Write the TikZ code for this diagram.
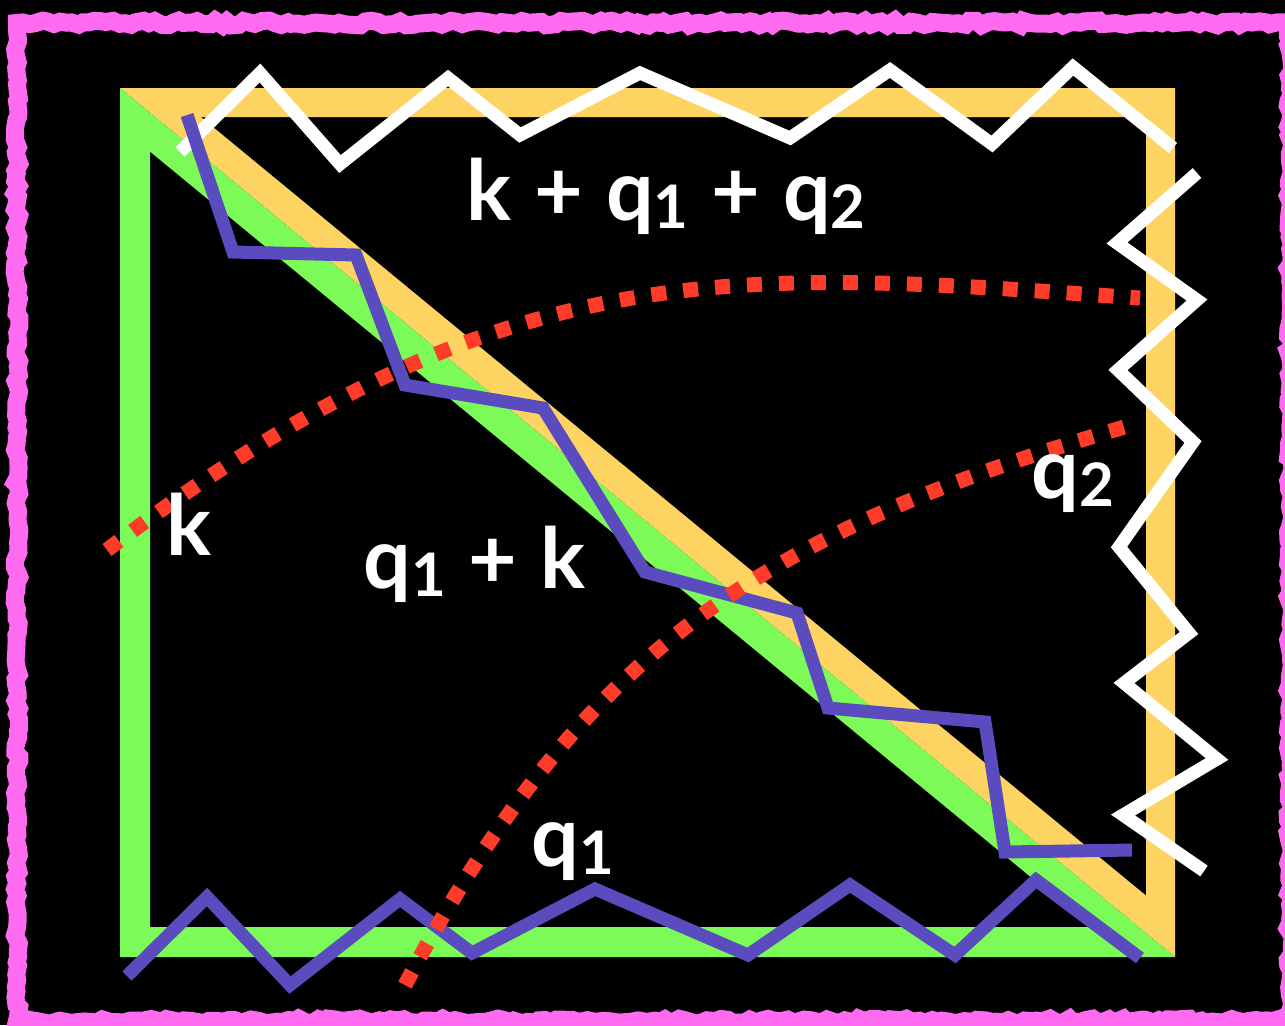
\documentclass[tikz,border=0pt]{standalone}
\usepackage{fontspec}
\setmainfont{Lato}
\usetikzlibrary{decorations.pathmorphing}
\definecolor{framepink}{HTML}{FF6BF0}
\definecolor{triyellow}{HTML}{FDD462}
\definecolor{trigreen}{HTML}{7BFA58}
\definecolor{zigpurple}{HTML}{5A4BBF}
\definecolor{dotred}{HTML}{FF3B2A}
\newcommand\mysub[1]{\raisebox{-0.1em}{\fontsize{30}{31}\selectfont #1}}
\newcommand\wgap{\hspace{11.5pt}}
\tikzset{
  whitezig/.style={draw=white, line width=6.5pt, miter limit=10, line join=miter},
  purplezig/.style={draw=zigpurple, line width=6.5pt, miter limit=10, line join=miter},
  reddots/.style={draw=dotred, line width=7.5pt, dash pattern=on 7.5pt off 8.5pt},
  lbl/.style={text=white, inner sep=0pt, anchor=base west, font=\fontsize{42}{43}\selectfont\bfseries}
}
\begin{document}
\begin{tikzpicture}[x=0.5pt, y=-0.5pt]
\pgfmathsetseed{7}
\useasboundingbox (0,0) rectangle (1285,1025);
\fill[black] (0,0) rectangle (1285,1025);
% pink rough frame
\begin{scope}
\clip (0,0) rectangle (1285,1025);
\draw[framepink, line width=9pt, decorate, decoration={random steps, segment length=3pt, amplitude=1.2pt}]
  (17,23) -- (1290,23) -- (1290,1021) -- (17,1021) -- cycle;
\end{scope}
% triangle corners
\coordinate (TL) at (120,88);
\coordinate (TR) at (1175,88);
\coordinate (BR) at (1175,957);
\coordinate (BL) at (120,957);
% yellow triangle
\begin{scope}
\clip (TL) -- (TR) -- (BR) -- cycle;
\draw[triyellow, line width=29pt, line join=miter, miter limit=20] (TL) -- (TR) -- (BR) -- cycle;
\end{scope}
% green triangle
\begin{scope}
\clip (TL) -- (BL) -- (BR) -- cycle;
\draw[trigreen, line width=30pt, line join=miter, miter limit=20] (TL) -- (BL) -- (BR) -- cycle;
\end{scope}
% white zigzags
\draw[whitezig] (180,152) -- (260,73) -- (340,164) -- (448,78) -- (520,135) -- (640,73)
  -- (790,138) -- (890,70) -- (992,144) -- (1073,67) -- (1173,148);
\draw[whitezig] (1197,173) -- (1117,243) -- (1197,300) -- (1118,370) -- (1193,442)
  -- (1119,547) -- (1189,633) -- (1124,683) -- (1217,759) -- (1123,815) -- (1204,871);
% purple zigzags
\draw[purplezig] (187,115) -- (233,252) -- (356,255) -- (405,385) -- (543,408) -- (645,572)
  -- (797,613) -- (828,708) -- (985,722) -- (1005,852) -- (1132,850);
\draw[purplezig] (127,976) -- (207,897) -- (290,985) -- (400,899) -- (472,953) -- (595,889)
  -- (748,955) -- (850,885) -- (955,955) -- (1036,880) -- (1140,958);
% red dotted curves
\draw[reddots] (107,550) .. controls (507,246) and (740,270) .. (1140,298);
\draw[reddots] (405,985) .. controls (582,649) and (763,532) .. (1128,426);
% labels
\node[lbl] (top) at (466,220) {k\wgap+\wgap q\mysub{1}\wgap+\wgap q\mysub{2}};
\node[lbl] (mid) at (363,588) {q\mysub{1}\wgap+\wgap k};
\node[lbl] (kk) at (166,555) {k};
\node[lbl] (qtwo) at (1031,498) {q\mysub{2}};
\node[lbl] (qone) at (531,866) {q\mysub{1}};
\end{tikzpicture}
\end{document}
